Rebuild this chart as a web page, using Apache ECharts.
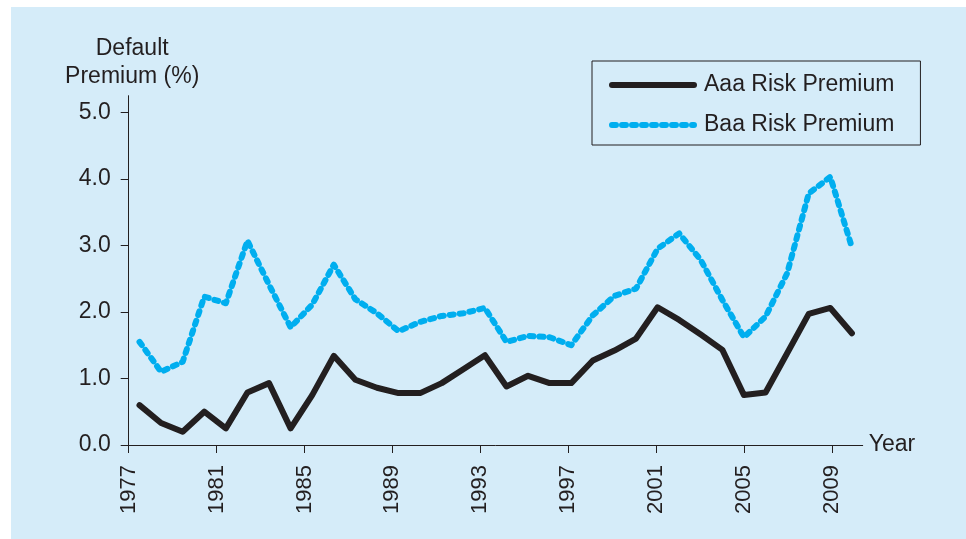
<!DOCTYPE html>
<html>
<head>
<meta charset="utf-8">
<script src="https://cdn.jsdelivr.net/npm/echarts@6/dist/echarts.min.js"></script>
<style>
  html, body { margin: 0; padding: 0; background: #fff; }
  .panel { position: absolute; left: 11px; top: 7px; right: 0; bottom: 0; background: #d5ecf9; }
  #chart { position: absolute; left: 0; top: 0; width: 966px; height: 539px; }
</style>
</head>
<body>
<div class="panel"></div>
<div id="chart"></div>
<script>
const years = ['1977', '1978', '1979', '1980', '1981', '1982', '1983', '1984', '1985', '1986',
  '1987', '1988', '1989', '1990', '1991', '1992', '1993', '1994', '1995', '1996',
  '1997', '1998', '1999', '2000', '2001', '2002', '2003', '2004', '2005', '2006',
  '2007', '2008', '2009', '2010']
const aaaPremium = [0.60, 0.33, 0.20, 0.50, 0.25, 0.79, 0.93, 0.25, 0.75, 1.34,
  0.98, 0.86, 0.78, 0.78, 0.93, 1.14, 1.35, 0.88, 1.04, 0.93,
  0.93, 1.27, 1.42, 1.60, 2.07, 1.88, 1.66, 1.43, 0.75, 0.79,
  1.38, 1.97, 2.06, 1.68]
const baaPremium = [1.55, 1.10, 1.25, 2.23, 2.13, 3.07, 2.41, 1.77, 2.11, 2.71,
  2.19, 1.98, 1.71, 1.85, 1.94, 1.98, 2.06, 1.55, 1.64, 1.62,
  1.50, 1.95, 2.24, 2.35, 2.95, 3.18, 2.78, 2.18, 1.62, 1.93,
  2.58, 3.78, 4.03, 2.97]
const yearTicks = [1977, 1981, 1985, 1989, 1993, 1997, 2001, 2005, 2009]
const premiumTicks = [0, 1, 2, 3, 4, 5]

const ink = '#231f20'
const blue = '#00aeef'
const font = 'Liberation Sans, Arial, sans-serif'

const chart = echarts.init(document.getElementById('chart'))
chart.setOption({
  animation: false,
  grid: { left: 128.7, right: 103.3, top: 95.7, bottom: 94 },
  legend: {
    orient: 'vertical',
    left: 592,
    top: 61,
    padding: [12, 26, 8, 17],
    itemGap: 16,
    itemWidth: 82,
    itemHeight: 8,
    borderColor: ink,
    borderWidth: 1,
    itemStyle: { opacity: 0 },
    lineStyle: { width: 6, cap: 'round' },
    textStyle: { color: ink, fontSize: 23, fontFamily: font, lineHeight: 24, padding: [0, 0, 0, 5] },
    data: ['Aaa Risk Premium', 'Baa Risk Premium']
  },
  xAxis: [
    {
      type: 'value',
      min: 1977,
      max: 2010.4,
      name: 'Year',
      nameLocation: 'end',
      nameGap: 6,
      nameTextStyle: { color: ink, fontSize: 23, fontFamily: font },
      axisLine: { lineStyle: { color: ink, width: 1 } },
      axisTick: { length: 8, customValues: yearTicks, lineStyle: { color: ink } },
      axisLabel: {
        customValues: yearTicks,
        rotate: 90,
        margin: 20,
        color: ink,
        fontSize: 22,
        fontFamily: font,
        formatter: v => String(v)
      },
      splitLine: { show: false }
    },
    {
      type: 'category',
      data: years,
      boundaryGap: true,
      show: false
    }
  ],
  yAxis: {
    type: 'value',
    min: 0,
    max: 5.25,
    name: 'Default\nPremium (%)',
    nameLocation: 'end',
    nameGap: 5,
    nameTextStyle: { color: ink, fontSize: 23, fontFamily: font, lineHeight: 28, padding: [0, 0, 0, 7] },
    axisLine: { show: true, lineStyle: { color: ink, width: 1 } },
    axisTick: { show: true, length: 8, customValues: premiumTicks, lineStyle: { color: ink } },
    axisLabel: {
      customValues: premiumTicks,
      margin: 18,
      color: ink,
      fontSize: 23,
      fontFamily: font,
      formatter: v => v.toFixed(1)
    },
    splitLine: { show: false }
  },
  series: [
    {
      name: 'Aaa Risk Premium',
      type: 'line',
      xAxisIndex: 1,
      data: aaaPremium,
      symbol: 'none',
      color: ink,
      lineStyle: { color: ink, width: 6, cap: 'round', join: 'round' }
    },
    {
      name: 'Baa Risk Premium',
      type: 'line',
      xAxisIndex: 1,
      data: baaPremium,
      symbol: 'none',
      color: blue,
      lineStyle: { color: blue, width: 6, type: [4, 6], cap: 'round', join: 'round' }
    }
  ]
})
</script>
</body>
</html>
